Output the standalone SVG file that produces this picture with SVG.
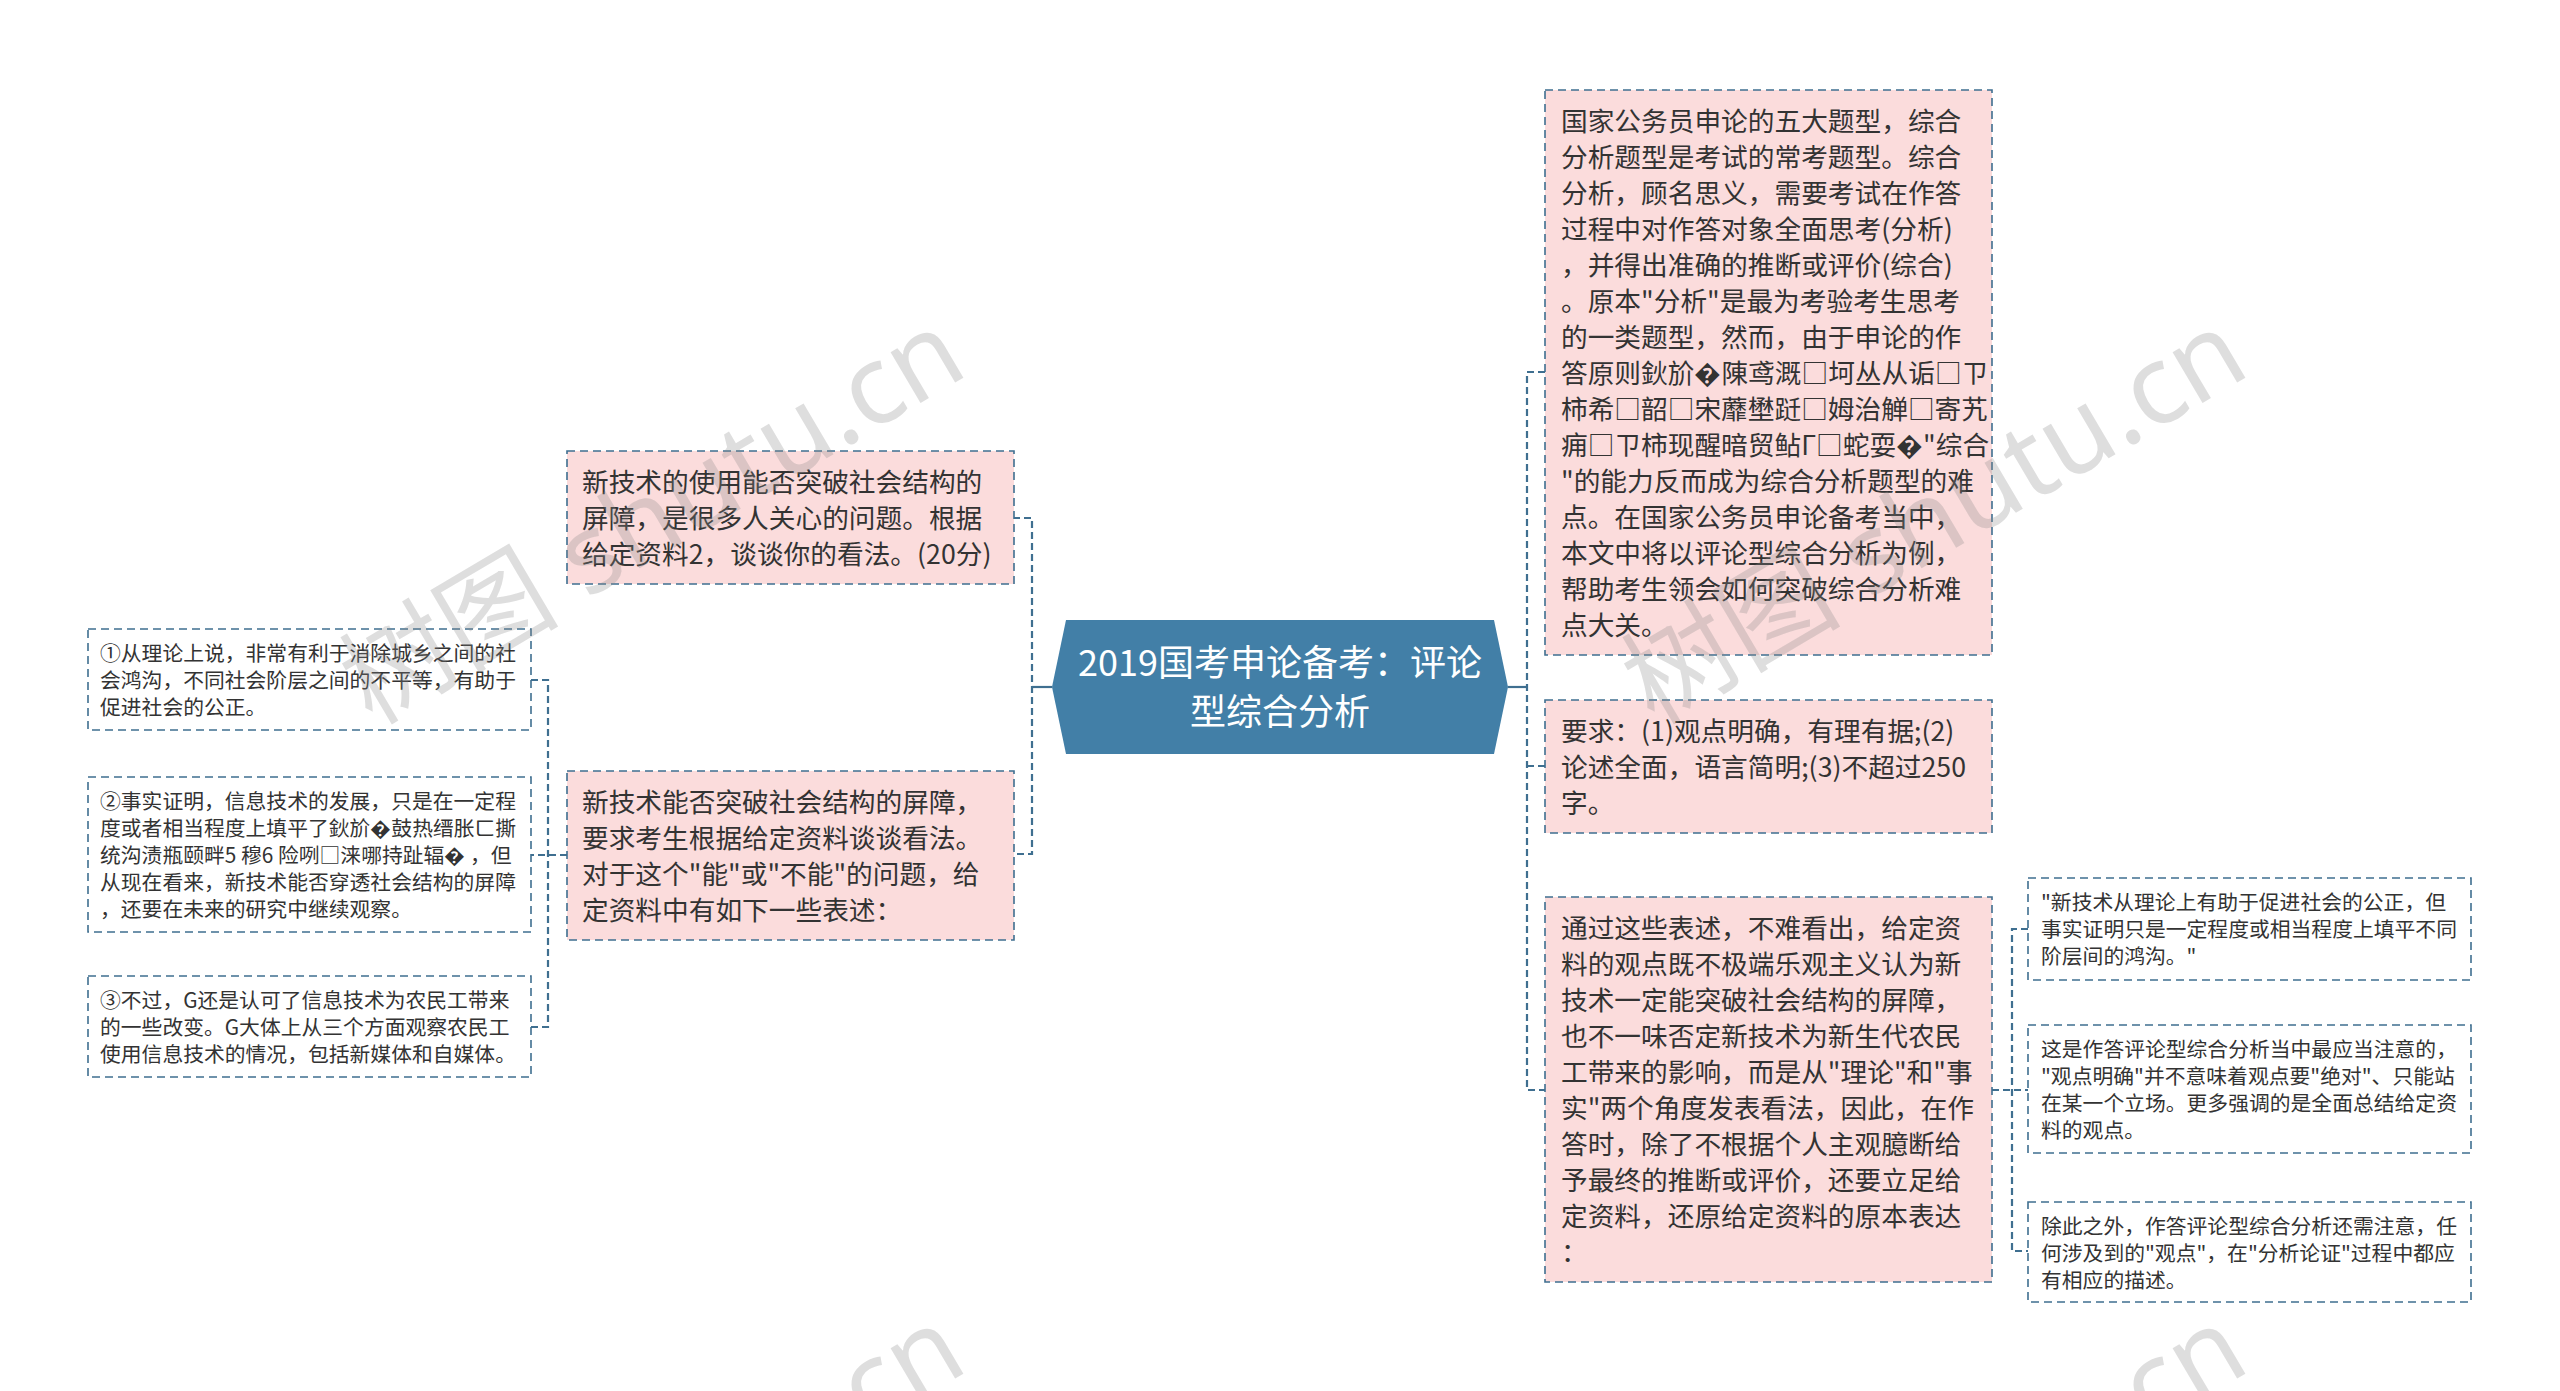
<svg xmlns="http://www.w3.org/2000/svg" width="2560" height="1391" viewBox="0 0 2560 1391">
<style>
.bg{fill:#ffffff}
.box{fill:#fbdcdc;stroke:#3f6f90;stroke-width:1.6;stroke-dasharray:8 5}
.sbox{fill:#ffffff;stroke:#3f6f90;stroke-width:1.6;stroke-dasharray:8 5}
.t{font-family:"Noto Sans CJK SC","Microsoft YaHei",sans-serif;font-size:26.7px;fill:#333333}
.s{font-family:"Noto Sans CJK SC","Microsoft YaHei",sans-serif;font-size:20.8px;fill:#333333}
.c{font-family:"Noto Sans CJK SC","Microsoft YaHei",sans-serif;font-size:36px;fill:#ffffff;text-anchor:middle}
.ln{fill:none;stroke:#3f6f90;stroke-width:2.2;stroke-dasharray:7 4}
.solid{fill:none;stroke:#3f6f90;stroke-width:2.2}
.wm{font-family:"Noto Sans","Noto Sans CJK SC",sans-serif;font-size:110px;fill:#888888;fill-opacity:0.28}
</style>
<rect class="bg" x="0" y="0" width="2560" height="1391"/>

<g id="connectors">
  <path class="solid" d="M1052,687 H1032"/>
  <path class="ln" d="M1013,518 H1032 V854 H1013"/>
  <path class="solid" d="M1508,687 H1527"/>
  <path class="ln" d="M1545,372 H1527 V1090 H1545"/>
  <path class="ln" d="M1527,766 H1545"/>
  <path class="ln" d="M567,855 H531"/>
  <path class="ln" d="M531,680 H548 V1027 H531"/>
  <path class="ln" d="M1992,1090 H2028"/>
  <path class="ln" d="M2028,929 H2012 V1251 H2028"/>
</g>

<g id="center">
  <polygon points="1052,687 1066,620 1494,620 1508,687 1494,754 1066,754" fill="#427fa7"/>
  <text class="c" x="1280" y="676">2019国考申论备考：评论</text>
  <text class="c" x="1280" y="725">型综合分析</text>
</g>

<g id="node-question">
  <rect class="box" x="567" y="451" width="447" height="133"/>
  <text class="t" x="582" y="492">新技术的使用能否突破社会结构的</text>
  <text class="t" x="582" y="528">屏障，是很多人关心的问题。根据</text>
  <text class="t" x="582" y="564">给定资料2，谈谈你的看法。(20分)</text>
</g>

<g id="node-analysis">
  <rect class="box" x="567" y="771" width="447" height="169"/>
  <text class="t" x="582" y="812">新技术能否突破社会结构的屏障，</text>
  <text class="t" x="582" y="848">要求考生根据给定资料谈谈看法。</text>
  <text class="t" x="582" y="884">对于这个"能"或"不能"的问题，给</text>
  <text class="t" x="582" y="920">定资料中有如下一些表述：</text>
</g>

<g id="node-s1">
  <rect class="sbox" x="88" y="629" width="443" height="101"/>
  <text class="s" x="100" y="661">①从理论上说，非常有利于消除城乡之间的社</text>
  <text class="s" x="100" y="688">会鸿沟，不同社会阶层之间的不平等，有助于</text>
  <text class="s" x="100" y="715">促进社会的公正。</text>
</g>

<g id="node-s2">
  <rect class="sbox" x="88" y="777" width="443" height="155"/>
  <text class="s" x="100" y="809">②事实证明，信息技术的发展，只是在一定程</text>
  <text class="s" x="100" y="836">度或者相当程度上填平了鈥斺�鼓热缙胀ㄈ撕</text>
  <text class="s" x="100" y="863">统沟渍瓶颐畔5 穆6 险咧□涞哪持趾辐� ，但</text>
  <text class="s" x="100" y="890">从现在看来，新技术能否穿透社会结构的屏障</text>
  <text class="s" x="100" y="917">，还要在未来的研究中继续观察。</text>
</g>

<g id="node-s3">
  <rect class="sbox" x="88" y="976" width="443" height="101"/>
  <text class="s" x="100" y="1008">③不过，G还是认可了信息技术为农民工带来</text>
  <text class="s" x="100" y="1035">的一些改变。G大体上从三个方面观察农民工</text>
  <text class="s" x="100" y="1062">使用信息技术的情况，包括新媒体和自媒体。</text>
</g>

<g id="node-intro">
  <rect class="box" x="1545" y="90" width="447" height="565"/>
  <text class="t" x="1561" y="131">国家公务员申论的五大题型，综合</text>
  <text class="t" x="1561" y="167">分析题型是考试的常考题型。综合</text>
  <text class="t" x="1561" y="203">分析，顾名思义，需要考试在作答</text>
  <text class="t" x="1561" y="239">过程中对作答对象全面思考(分析)</text>
  <text class="t" x="1561" y="275">，并得出准确的推断或评价(综合)</text>
  <text class="t" x="1561" y="311">。原本"分析"是最为考验考生思考</text>
  <text class="t" x="1561" y="347">的一类题型，然而，由于申论的作</text>
  <text class="t" x="1561" y="383">答原则鈥斺�陳鸢溉□坷丛从诟□ㄗ</text>
  <text class="t" x="1561" y="419">柿希□韶□宋蘼壄跹□姆治觯□寄艽</text>
  <text class="t" x="1561" y="455">痈□ㄗ柿现醒暗贸鲇Γ□蛇耍�"综合</text>
  <text class="t" x="1561" y="491">"的能力反而成为综合分析题型的难</text>
  <text class="t" x="1561" y="527">点。在国家公务员申论备考当中，</text>
  <text class="t" x="1561" y="563">本文中将以评论型综合分析为例，</text>
  <text class="t" x="1561" y="599">帮助考生领会如何突破综合分析难</text>
  <text class="t" x="1561" y="635">点大关。</text>
</g>

<g id="node-require">
  <rect class="box" x="1545" y="700" width="447" height="133"/>
  <text class="t" x="1561" y="741">要求：(1)观点明确，有理有据;(2)</text>
  <text class="t" x="1561" y="777">论述全面，语言简明;(3)不超过250</text>
  <text class="t" x="1561" y="813">字。</text>
</g>

<g id="node-conclusion">
  <rect class="box" x="1545" y="897" width="447" height="385"/>
  <text class="t" x="1561" y="938">通过这些表述，不难看出，给定资</text>
  <text class="t" x="1561" y="974">料的观点既不极端乐观主义认为新</text>
  <text class="t" x="1561" y="1010">技术一定能突破社会结构的屏障，</text>
  <text class="t" x="1561" y="1046">也不一味否定新技术为新生代农民</text>
  <text class="t" x="1561" y="1082">工带来的影响，而是从"理论"和"事</text>
  <text class="t" x="1561" y="1118">实"两个角度发表看法，因此，在作</text>
  <text class="t" x="1561" y="1154">答时，除了不根据个人主观臆断给</text>
  <text class="t" x="1561" y="1190">予最终的推断或评价，还要立足给</text>
  <text class="t" x="1561" y="1226">定资料，还原给定资料的原本表达</text>
  <text class="t" x="1561" y="1262">：</text>
</g>

<g id="node-r1">
  <rect class="sbox" x="2028" y="878" width="443" height="102"/>
  <text class="s" x="2041" y="910">"新技术从理论上有助于促进社会的公正，但</text>
  <text class="s" x="2041" y="937">事实证明只是一定程度或相当程度上填平不同</text>
  <text class="s" x="2041" y="964">阶层间的鸿沟。"</text>
</g>

<g id="node-r2">
  <rect class="sbox" x="2028" y="1025" width="443" height="128"/>
  <text class="s" x="2041" y="1057">这是作答评论型综合分析当中最应当注意的，</text>
  <text class="s" x="2041" y="1084">"观点明确"并不意味着观点要"绝对"、只能站</text>
  <text class="s" x="2041" y="1111">在某一个立场。更多强调的是全面总结给定资</text>
  <text class="s" x="2041" y="1138">料的观点。</text>
</g>

<g id="node-r3">
  <rect class="sbox" x="2028" y="1202" width="443" height="100"/>
  <text class="s" x="2041" y="1234">除此之外，作答评论型综合分析还需注意，任</text>
  <text class="s" x="2041" y="1261">何涉及到的"观点"，在"分析论证"过程中都应</text>
  <text class="s" x="2041" y="1288">有相应的描述。</text>
</g>

<g id="watermarks">
  <text class="wm" transform="translate(372,726) rotate(-30.5)">树图 shutu.cn</text>
  <text class="wm" transform="translate(1654,726) rotate(-30.5)">树图 shutu.cn</text>
  <text class="wm" transform="translate(372,1722) rotate(-30.5)">树图 shutu.cn</text>
  <text class="wm" transform="translate(1654,1722) rotate(-30.5)">树图 shutu.cn</text>
</g>
</svg>
